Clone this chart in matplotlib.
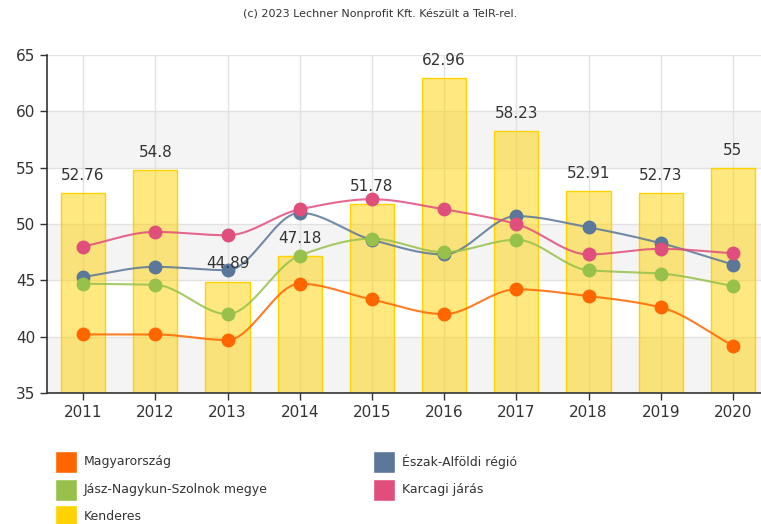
import numpy as np
import matplotlib
matplotlib.use("Agg")
import matplotlib.pyplot as plt
from matplotlib.patches import Rectangle

years = ["2011", "2012", "2013", "2014", "2015", "2016", "2017", "2018", "2019", "2020"]
kenderes = [52.76, 54.8, 44.89, 47.18, 51.78, 62.96, 58.23, 52.91, 52.73, 55]
magyarorszag = [40.2, 40.2, 39.7, 44.7, 43.3, 42.0, 44.2, 43.6, 42.6, 39.2]
eszak_alfold = [45.3, 46.2, 45.9, 51.0, 48.6, 47.3, 50.7, 49.7, 48.3, 46.4]
jnsz = [44.7, 44.6, 42.0, 47.2, 48.7, 47.5, 48.6, 45.9, 45.6, 44.5]
karcag = [48.0, 49.3, 49.0, 51.3, 52.2, 51.3, 50.0, 47.3, 47.8, 47.4]

series = [
    ("Magyarország", magyarorszag, "#FF6600"),
    ("Észak-Alföldi régió", eszak_alfold, "#5B7799"),
    ("Jász-Nagykun-Szolnok megye", jnsz, "#97C14B"),
    ("Karcagi járás", karcag, "#E04E7B"),
]
bar_name = "Kenderes"
bar_color = "#FFD200"


def monotone(x, y, n=30):
    x = np.asarray(x, float); y = np.asarray(y, float)
    h = np.diff(x); d = np.diff(y) / h
    m = np.zeros_like(y)
    m[0] = d[0]; m[-1] = d[-1]
    for i in range(1, len(y) - 1):
        if d[i - 1] * d[i] <= 0:
            m[i] = 0
        else:
            m[i] = 2 / (1 / d[i - 1] + 1 / d[i])
    xs, ys = [], []
    for i in range(len(x) - 1):
        t = np.linspace(0, 1, n)
        h00 = 2 * t**3 - 3 * t**2 + 1
        h10 = t**3 - 2 * t**2 + t
        h01 = -2 * t**3 + 3 * t**2
        h11 = t**3 - t**2
        xs.append(x[i] + t * h[i])
        ys.append(h00 * y[i] + h10 * h[i] * m[i] + h01 * y[i + 1] + h11 * h[i] * m[i + 1])
    return np.concatenate(xs), np.concatenate(ys)


W, H = 761, 524
fig = plt.figure(figsize=(W / 100, H / 100), dpi=100)
left = 47 / W
right = 769 / W
bottom = 1 - 393 / H
top = 1 - 55 / H
ax = fig.add_axes([left, bottom, right - left, top - bottom])

x = np.arange(len(years))
ax.set_xlim(-0.5, len(years) - 0.5)
ax.set_ylim(35, 65)

# alternating bands
for lo in range(35, 65, 10):
    ax.axhspan(lo, lo + 5, color="#F4F4F4", zorder=0, lw=0)

ax.set_yticks(np.arange(35, 66, 5))
ax.set_xticks(x)
ax.set_xticklabels(years)
ax.grid(True, color="#E2E2E2", lw=1, zorder=0.5)
ax.set_axisbelow(True)

ax.bar(x, kenderes, width=0.61, color=bar_color, alpha=0.5, zorder=2, lw=0)
ax.bar(x, kenderes, width=0.61, fill=False, edgecolor="#FFD200", lw=1.0, zorder=2.1)
for xi, v in zip(x, kenderes):
    lbl = f"{v:g}"
    ax.text(xi, v + 0.9, lbl, ha="center", va="bottom", fontsize=11, color="#333333", zorder=5)

for name, vals, col in series:
    xs, ys = monotone(x, vals)
    ax.plot(xs, ys, color=col, lw=1.5, zorder=3, alpha=0.85)
    ax.plot(x, vals, "o", color=col, ms=9, zorder=4, mec=col)

for s in ["top", "right"]:
    ax.spines[s].set_visible(False)
ax.spines["left"].set_color("#333333")
ax.spines["bottom"].set_color("#333333")
ax.spines["left"].set_linewidth(1.2)
ax.spines["bottom"].set_linewidth(1.2)
ax.tick_params(axis="both", colors="#333333", labelsize=11, length=5, width=1)

fig.text(0.5, 1 - 14 / H, "(c) 2023 Lechner Nonprofit Kft. Készült a TeIR-rel.",
         ha="center", va="center", fontsize=8, color="#333333")

legend_items = [
    ("Magyarország", "#FF6600", 55, 462),
    ("Észak-Alföldi régió", "#5B7799", 373, 462),
    ("Jász-Nagykun-Szolnok megye", "#97C14B", 55, 490),
    ("Karcagi járás", "#E04E7B", 373, 490),
    ("Kenderes", "#FFD200", 55, 516),
]
sq = 22
for name, col, px, py in legend_items:
    fig.patches.append(Rectangle((px / W, 1 - (py + sq / 2) / H), sq / W, sq / H,
                                 transform=fig.transFigure, facecolor=col,
                                 edgecolor="white", lw=1))
    fig.text((px + sq + 7) / W, 1 - py / H, name, ha="left", va="center",
             fontsize=9, color="#333333")

fig.savefig("out.png", dpi=100)
